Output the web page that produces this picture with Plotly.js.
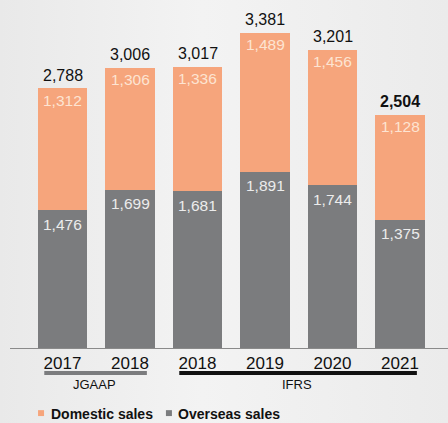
<!DOCTYPE html>
<html>
<head>
<meta charset="utf-8">
<script src="https://cdn.plot.ly/plotly-3.0.1.min.js"></script>
<style>
html,body{margin:0;padding:0;background:#eeeeee;}
#chart{width:448px;height:423px;background:linear-gradient(90deg,#e9e9e9 0%,#f3f3f3 45%,#ebebeb 100%);}
</style>
</head>
<body>
<div id="chart"></div>
<script>
const years = ['2017', '2018', '2018', '2019', '2020', '2021'];
const overseas = [1476, 1699, 1681, 1891, 1744, 1375];
const domestic = [1312, 1306, 1336, 1489, 1456, 1128];
const totals = [2788, 3006, 3017, 3381, 3201, 2504];
const groups = [
  {name: 'JGAAP', from: 0, to: 1, color: '#7b7c7e'},
  {name: 'IFRS', from: 2, to: 5, color: '#111111'}
];
const legendNames = ['Domestic sales', 'Overseas sales'];

const ORANGE = '#f6a57c';
const GRAY = '#7b7c7e';
const FONT = 'Liberation Sans, Arial, sans-serif';
const idx = years.map((_, i) => i);
const fmt = v => v.toLocaleString('en-US');

const traces = [
  {type: 'bar', x: idx, y: overseas, name: legendNames[1], marker: {color: GRAY}, width: 0.73, hoverinfo: 'none'},
  {type: 'bar', x: idx, y: domestic, name: legendNames[0], marker: {color: ORANGE}, width: 0.73, hoverinfo: 'none'}
];

const annotations = [];
idx.forEach(i => {
  annotations.push({x: i, y: totals[i], xref: 'x', yref: 'y', text: i === 5 ? '<b>' + fmt(totals[i]) + '</b>' : fmt(totals[i]),
    showarrow: false, yanchor: 'middle', yshift: 13, font: {family: FONT, size: 16, color: '#111'}});
  annotations.push({x: i, y: totals[i], xref: 'x', yref: 'y', text: fmt(domestic[i]), showarrow: false,
    yanchor: 'middle', yshift: -12, font: {family: FONT, size: 15.5, color: '#fde4d2'}});
  annotations.push({x: i, y: overseas[i], xref: 'x', yref: 'y', text: fmt(overseas[i]), showarrow: false,
    yanchor: 'middle', yshift: -14, font: {family: FONT, size: 15.5, color: '#ececec'}});
});

const shapes = [];
groups.forEach(g => {
  shapes.push({type: 'line', xref: 'x', yref: 'paper', x0: g.from - 0.27, x1: g.to + 0.25, y0: -0.076, y1: -0.076,
    line: {color: g.color, width: 4}});
  annotations.push({x: (g.from + g.to) / 2 - 0.03, y: -0.111, xref: 'x', yref: 'paper', yanchor: 'middle', text: g.name,
    showarrow: false, font: {family: FONT, size: 13, color: '#111'}});
});

// legend (custom)
const legendItems = [
  {label: legendNames[0], color: ORANGE, x: 0.064},
  {label: legendNames[1], color: GRAY, x: 0.356}
];
legendItems.forEach(it => {
  shapes.push({type: 'rect', xref: 'paper', yref: 'paper', x0: it.x, x1: it.x + 0.0137, y0: -0.2075, y1: -0.1895,
    fillcolor: it.color, line: {width: 0}});
  annotations.push({x: it.x + 0.024, y: -0.2, xref: 'paper', yref: 'paper', xanchor: 'left', yanchor: 'middle',
    text: it.label, showarrow: false, font: {family: FONT, size: 14, color: '#111', weight: 600}});
});

const layout = {
  width: 448, height: 423,
  margin: {l: 10, r: 0, t: 20, b: 75},
  paper_bgcolor: 'rgba(0,0,0,0)',
  plot_bgcolor: 'rgba(0,0,0,0)',
  barmode: 'stack',
  showlegend: false,
  xaxis: {
    range: [-0.7778, 5.711], tickvals: idx, ticktext: years, showgrid: false, zeroline: false,
    showline: true, linecolor: '#8a8a8a', linewidth: 1, ticks: '', ticklen: 0,
    tickfont: {family: FONT, size: 17, color: '#111'}, fixedrange: true
  },
  yaxis: {range: [0, 3520], visible: false, showgrid: false, zeroline: false, fixedrange: true},
  annotations: annotations,
  shapes: shapes
};

Plotly.newPlot('chart', traces, layout, {displayModeBar: false, staticPlot: true});
</script>
</body>
</html>
